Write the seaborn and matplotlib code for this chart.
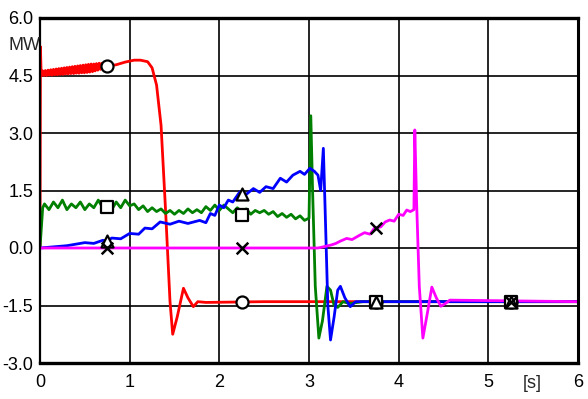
import matplotlib
matplotlib.use('Agg')
import matplotlib.pyplot as plt
import seaborn as sns

# --- data (time in s, power in MW) ---
red_t = [0, 0.005, 0.012, 0.02,
         0.03, 0.045, 0.06, 0.075, 0.09, 0.105, 0.12, 0.135, 0.15, 0.165, 0.18, 0.195,
         0.21, 0.225, 0.24, 0.255, 0.27, 0.285, 0.3, 0.315, 0.33, 0.345, 0.36, 0.375,
         0.39, 0.405, 0.42, 0.435, 0.45, 0.465, 0.48, 0.495, 0.51, 0.525, 0.54, 0.555,
         0.57, 0.585, 0.6, 0.615, 0.63, 0.645, 0.66, 0.675, 0.69, 0.705, 0.72, 0.735,
         0.75, 0.85, 0.95, 1.05, 1.12, 1.2, 1.25, 1.3, 1.35, 1.4, 1.45, 1.48,
         1.53, 1.6, 1.65, 1.71, 1.76, 1.85, 2.5, 3.0, 3.5, 4.0, 5.0, 6.0]
red_y = [0, 5.25, 4.6, 4.5,
         4.62, 4.5, 4.63, 4.5, 4.64, 4.51, 4.65, 4.51, 4.66, 4.52, 4.67, 4.52,
         4.68, 4.53, 4.69, 4.53, 4.7, 4.54, 4.71, 4.54, 4.72, 4.55, 4.73, 4.55,
         4.74, 4.56, 4.75, 4.56, 4.76, 4.57, 4.77, 4.57, 4.78, 4.58, 4.79, 4.59,
         4.8, 4.6, 4.8, 4.62, 4.81, 4.64, 4.82, 4.66, 4.82, 4.68, 4.82, 4.7,
         4.75, 4.78, 4.85, 4.9, 4.9, 4.86, 4.7, 4.25, 3.2, 1.0, -1.4, -2.25,
         -1.8, -1.05, -1.3, -1.53, -1.4, -1.42, -1.4, -1.4, -1.4, -1.4, -1.4, -1.4]

green_t = [0, 0.03, 0.05, 0.1, 0.15, 0.2, 0.25, 0.3, 0.35, 0.4, 0.45, 0.5, 0.55,
           0.6, 0.65, 0.7, 0.75, 0.8, 0.85, 0.9, 0.95, 1.0, 1.05, 1.1, 1.15, 1.2,
           1.25, 1.3, 1.35, 1.4, 1.45, 1.5, 1.55, 1.6, 1.65, 1.7, 1.75, 1.8, 1.85,
           1.9, 1.95, 2.0, 2.05, 2.1, 2.15, 2.2, 2.25, 2.3, 2.35, 2.4, 2.45, 2.5,
           2.55, 2.6, 2.65, 2.7, 2.75, 2.8, 2.85, 2.9, 2.95, 3.0, 3.02, 3.04,
           3.07, 3.11, 3.15, 3.2, 3.24, 3.28, 3.32, 3.38, 3.45, 3.6, 6.0]
green_y = [0, 1.05, 1.15, 1.0, 1.2, 1.05, 1.25, 1.0, 1.15, 1.05, 1.2, 1.0, 1.15,
           1.05, 1.25, 1.05, 1.15, 1.0, 1.2, 1.05, 1.25, 1.1, 1.15, 1.0, 1.1, 0.95,
           1.05, 0.95, 1.02, 0.9, 0.98, 0.88, 0.98, 0.9, 1.02, 0.92, 1.0, 0.92, 1.08,
           0.98, 1.12, 0.98, 1.12, 1.02, 0.92, 1.05, 0.95, 1.02, 0.88, 0.98, 0.92, 0.98,
           0.88, 0.95, 0.82, 0.9, 0.8, 0.88, 0.76, 0.84, 0.72, 0.78, 3.45, 1.5,
           -1.0, -2.35, -1.9, -1.0, -1.1, -1.5, -1.55, -1.4, -1.45, -1.4, -1.4]

blue_t = [0, 0.1, 0.2, 0.3, 0.4, 0.5, 0.6, 0.7, 0.75, 0.8, 0.9, 1.0, 1.1, 1.17,
          1.25, 1.34, 1.45, 1.55, 1.65, 1.78, 1.85, 1.9, 1.95, 2.0, 2.05, 2.1,
          2.15, 2.23, 2.3, 2.38, 2.45, 2.52, 2.6, 2.68, 2.75, 2.82, 2.9, 2.95,
          3.01, 3.06, 3.1, 3.13, 3.16, 3.18, 3.21, 3.24, 3.28, 3.32, 3.35, 3.4,
          3.46, 3.52, 6.0]
blue_y = [0, 0.02, 0.04, 0.06, 0.1, 0.14, 0.12, 0.2, 0.18, 0.26, 0.24, 0.38, 0.36, 0.52,
          0.5, 0.68, 0.62, 0.7, 0.64, 0.72, 0.66, 0.9, 0.85, 1.12, 1.05, 1.25,
          1.2, 1.47, 1.4, 1.55, 1.45, 1.6, 1.55, 1.82, 1.72, 1.9, 2.0, 1.92,
          2.08, 2.0, 1.9, 1.5, 2.6, 1.0, -1.5, -2.4, -1.8, -1.1, -1.0, -1.3,
          -1.53, -1.4, -1.4]

magenta_t = [0, 3.1, 3.16, 3.25, 3.3, 3.35, 3.42, 3.48, 3.57, 3.62, 3.68, 3.73,
             3.8, 3.85, 3.9, 3.95, 4.0, 4.05, 4.09, 4.13, 4.17, 4.18, 4.2, 4.23,
             4.27, 4.32, 4.37, 4.42, 4.47, 4.52, 4.57, 6.0]
magenta_y = [0, 0, 0.03, 0.08, 0.12, 0.18, 0.25, 0.22, 0.34, 0.4, 0.36, 0.52,
             0.55, 0.68, 0.73, 0.7, 0.88, 0.85, 0.99, 0.95, 1.0, 3.08, 1.2, -1.0,
             -2.35, -1.7, -1.02, -1.3, -1.52, -1.45, -1.36, -1.4]

marker_t = [0.75, 2.25, 3.75, 5.25]
red_marks = [4.75, -1.4, -1.4, -1.4]
green_marks = [1.08, 0.86, -1.4, -1.4]
blue_marks = [0.18, 1.42, -1.4, -1.4]
magenta_marks = [0.0, 0.0, 0.52, -1.4]

x_ticks = [0, 1, 2, 3, 4, 5, 6]
y_ticks = [-3.0, -1.5, 0.0, 1.5, 3.0, 4.5, 6.0]

sns.set_style('white')
plt.rcParams['font.family'] = ['Liberation Sans', 'DejaVu Sans']

fig = plt.figure(figsize=(5.88, 3.99), dpi=100)
ax = fig.add_axes([40 / 588, 1 - 363 / 399, 538 / 588, 345 / 399])

series = [(red_t, red_y, '#ff0000'), (green_t, green_y, '#008000'),
          (blue_t, blue_y, '#0000ff'), (magenta_t, magenta_y, '#ff00ff')]
for t, y, col in series:
    sns.lineplot(x=t, y=y, color=col, linewidth=2.0, estimator=None, sort=False, ax=ax)

marks = [(red_marks, 'o'), (green_marks, 's'), (blue_marks, '^')]
for yv, m in marks:
    sns.scatterplot(x=marker_t, y=yv, marker=m, s=75, color='white',
                    edgecolor='black', linewidth=1.6, zorder=5, ax=ax)
sns.scatterplot(x=marker_t, y=magenta_marks, marker='x', s=70, color='black',
                linewidth=1.8, zorder=6, ax=ax)

ax.set_xlim(0, 6)
ax.set_ylim(-3, 6)
ax.set_xticks(x_ticks)
ax.set_xticklabels([str(v) for v in x_ticks], fontsize=13)
ax.set_yticks(y_ticks)
ax.set_yticklabels([f'{v:.1f}' for v in y_ticks], fontsize=13)
ax.tick_params(axis='both', direction='out', length=4, width=1.5, color='black',
               pad=1, labelcolor='black')
ax.tick_params(axis='x', pad=4)
ax.grid(True, color='black', linewidth=1.2)
ax.set_axisbelow(True)
for side, lw in [('top', 2.4), ('bottom', 2.4), ('left', 1.6), ('right', 2.2)]:
    ax.spines[side].set_visible(True)
    ax.spines[side].set_color('black')
    ax.spines[side].set_linewidth(lw)

fig.text(8 / 588, 1 - 46 / 399, 'MW', fontsize=13, ha='left', va='center')
fig.text(532 / 588, 1 - 383 / 399, '[s]', fontsize=13, ha='center', va='center')

fig.savefig('out.png', dpi=100)
